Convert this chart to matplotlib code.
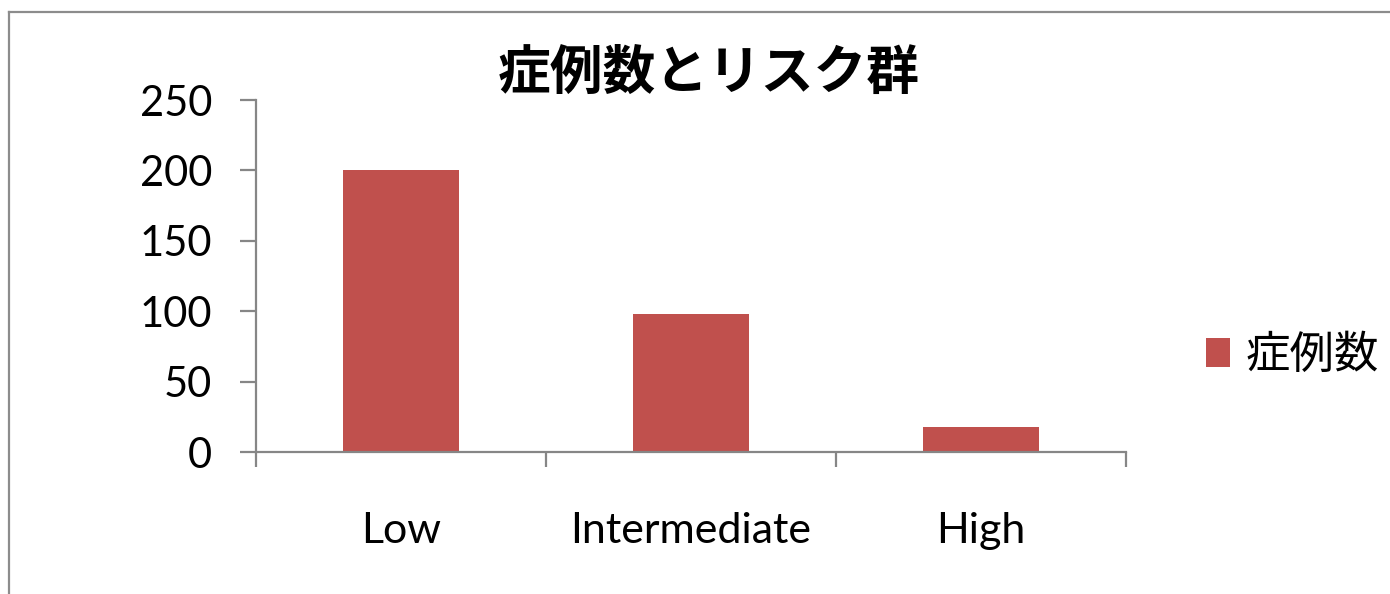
import matplotlib
matplotlib.use("Agg")
import matplotlib.pyplot as plt
from matplotlib.lines import Line2D

categories = ["Low", "Intermediate", "High"]
cases = [200, 98, 18]
series_name = "症例数"
title = "症例数とリスク群"
yticks = [0, 50, 100, 150, 200, 250]

plt.rcParams["font.family"] = ["Lato", "Noto Sans CJK JP", "DejaVu Sans"]

W, H, DPI = 1390, 594, 100
fig = plt.figure(figsize=(W / DPI, H / DPI), dpi=DPI)
fig.patch.set_facecolor("white")

# outer chart frame (left and top edges visible)
frame_col = "#8c8c8c"
fig.add_artist(Line2D([9 / W, 9 / W], [0, 1 - 12 / H], transform=fig.transFigure,
                      color=frame_col, lw=1.6))
fig.add_artist(Line2D([9 / W, 1], [1 - 12 / H, 1 - 12 / H], transform=fig.transFigure,
                      color=frame_col, lw=1.6))

ax = fig.add_axes([256 / W, 1 - 452 / H, (1126 - 256) / W, (452 - 100) / H])
x = list(range(len(categories)))
ax.bar(x, cases, width=0.4, color="#c0504d", label=series_name, zorder=2)

ax.set_xlim(-0.5, len(categories) - 0.5)
ax.set_ylim(0, 250)

axis_col = "#868686"
for s in ["top", "right"]:
    ax.spines[s].set_visible(False)
for s in ["left", "bottom"]:
    ax.spines[s].set_color(axis_col)
    ax.spines[s].set_linewidth(1.6)
    ax.spines[s].set_zorder(3)

ax.set_yticks(yticks)
ax.set_yticklabels([str(v) for v in yticks])
ax.tick_params(axis="y", direction="out", length=11.5, width=1.6, color=axis_col,
               labelsize=30, pad=20, labelcolor="black")

ax.set_xticks(x)
ax.set_xticklabels(categories)
ax.set_xticks([i - 0.5 for i in range(len(categories) + 1)], minor=True)
ax.tick_params(axis="x", which="major", length=0, labelsize=31, pad=43, labelcolor="black")
ax.tick_params(axis="x", which="minor", direction="out", length=11, width=1.6, color=axis_col)

fig.text(709 / W, 1 - 73 / H, title, ha="center", va="center", fontsize=38,
         fontweight="bold", family=["Noto Sans CJK JP", "DejaVu Sans"])

leg = ax.legend(loc="center left", bbox_to_anchor=(1166 / W, 1 - 355 / H),
                bbox_transform=fig.transFigure, frameon=False,
                prop={"family": ["Noto Sans CJK JP", "DejaVu Sans"], "size": 32},
                handlelength=0.55, handleheight=0.65, handletextpad=0.35)

fig.savefig("out.png", dpi=DPI, facecolor="white")
